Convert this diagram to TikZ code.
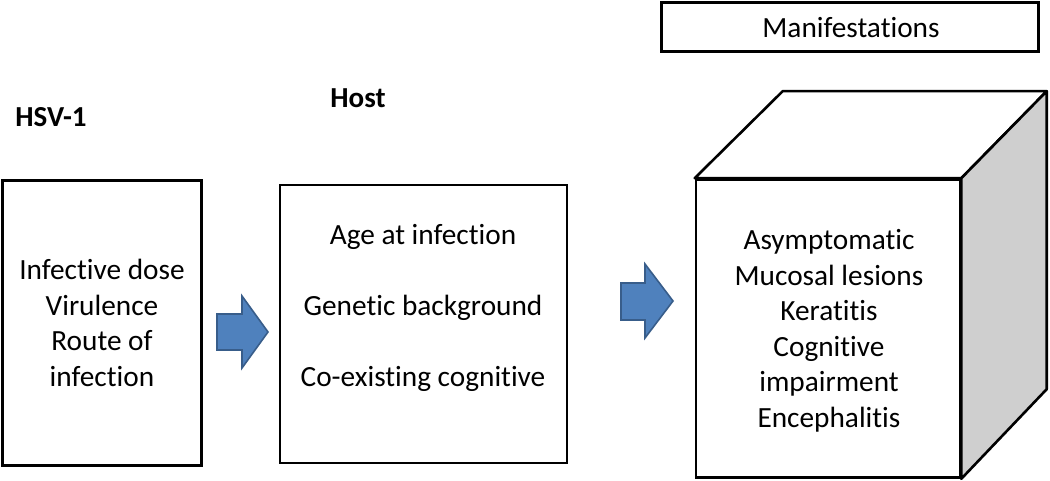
\documentclass[tikz,border=0pt]{standalone}
\usepackage{fontspec}
\setmainfont[Ligatures={NoCommon}]{Carlito}
\begin{document}
\begin{tikzpicture}[x=1pt,y=-1pt,
  txt/.style={font=\fontsize{29.3}{35.5}\selectfont, align=center, inner sep=0pt},
  lbl/.style={font=\fontsize{29}{35}\selectfont\bfseries, inner sep=0pt},
  panel/.style={draw=black, line width=2.6pt, fill=white, inner sep=0pt},
  blockarrow/.style={fill=arrowblue, draw=arrowedge, line width=1.6pt, line join=miter},
]
\definecolor{arrowblue}{HTML}{4F81BD}
\definecolor{arrowedge}{HTML}{385D8A}
\useasboundingbox (0,0) rectangle (1050,481);

% labels
\node[lbl] (hsv) at (51,117) {HSV-1};
\node[lbl] (host) at (358,98) {Host};

% manifestations header
\node[panel, line width=3.2pt, minimum width=377pt, minimum height=49pt] (man) at (850,27) {};
\node[txt] (mantxt) at (851,28) {Manifestations};

% box 1
\node[panel, minimum width=199pt, minimum height=285pt] (b1) at (102,323) {};
\node[txt] (b1txt) at (102,323) {Infective dose\\Virulence\\Route of\\infection};

% box 2
\node[panel, minimum width=287pt, minimum height=278pt] (b2) at (423.5,324) {};
\node[txt, font=\fontsize{29.3}{71}\selectfont] (b2txt) at (423,308) {Age at infection\\Genetic background\\Co-existing cognitive};

% cube
\node[panel, minimum width=264pt, minimum height=298pt] (cube) at (828,328.5) {};
\draw[line width=2.6pt, line join=round, fill=white] (cube.north west) -- ++(88,-87) coordinate (tl) -- ++(264,0) coordinate (tr) -- (cube.north east) -- cycle;
\draw[line width=2.6pt, line join=round, fill=black!19] (cube.north east) -- (tr) -- ++(0,298) coordinate (br) -- (cube.south east) -- cycle;
\node[txt] (cubetxt) at (829,331) {Asymptomatic\\Mucosal lesions\\Keratitis\\Cognitive\\impairment\\Encephalitis};

% block arrows
\path[blockarrow] (217,314) -- (242,314) -- (242,296) -- (268,332) -- (242,368) -- (242,350) -- (217,350) -- cycle;
\path[blockarrow] (621,283) -- (645,283) -- (645,264) -- (673,301) -- (645,338) -- (645,320) -- (621,320) -- cycle;
\end{tikzpicture}
\end{document}
